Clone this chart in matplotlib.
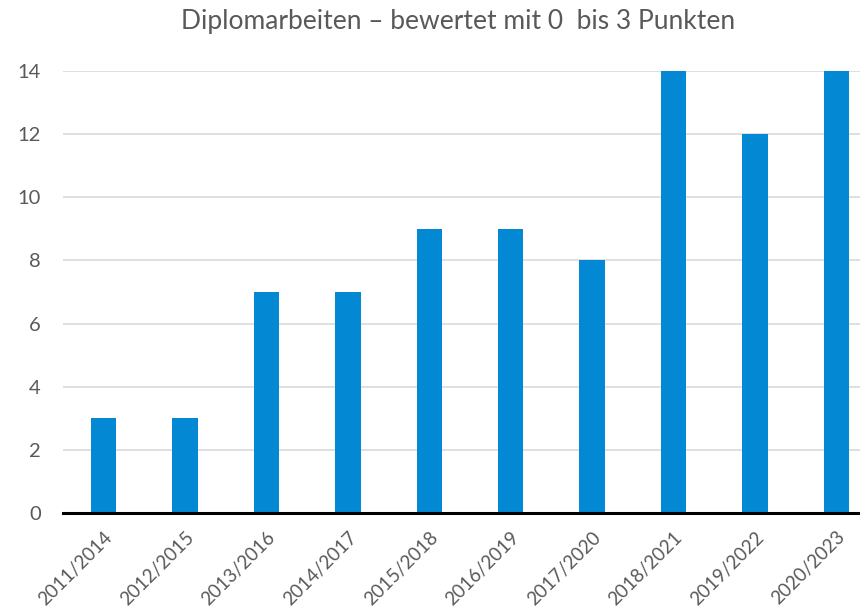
import matplotlib
matplotlib.use("Agg")
import matplotlib.pyplot as plt

categories = ["2011/2014", "2012/2015", "2013/2016", "2014/2017", "2015/2018",
              "2016/2019", "2017/2020", "2018/2021", "2019/2022", "2020/2023"]
values = [3, 3, 7, 7, 9, 9, 8, 14, 12, 14]
yticks = [0, 2, 4, 6, 8, 10, 12, 14]
title = "Diplomarbeiten – bewertet mit 0  bis 3 Punkten"

plt.rcParams['font.family'] = ['Lato', 'DejaVu Sans']

W, H = 860, 607
fig = plt.figure(figsize=(W / 100, H / 100), dpi=100)
left, right = 63, 860
bottom, top = 513, 71
ax = fig.add_axes([left / W, 1 - bottom / H, (right - left) / W, (bottom - top) / H])

x = list(range(len(categories)))
ax.bar(x, values, width=0.31, color="#0389D3", zorder=3)
spacing = 81.4
ax.set_xlim(-0.5, -0.5 + (right - left) / spacing)
ax.set_ylim(0, 14)
ax.set_yticks(yticks)
ax.set_yticklabels([str(v) for v in yticks])
ax.set_xticks(x)
ax.set_xticklabels(categories, rotation=45, ha="right", rotation_mode="anchor")

ax.grid(axis="y", color="#D9D9D9", linewidth=1.2, zorder=0)
for s in ["top", "right", "left"]:
    ax.spines[s].set_visible(False)
ax.spines["bottom"].set_color("black")
ax.spines["bottom"].set_linewidth(2.2)
ax.spines["bottom"].set_zorder(4)
ax.tick_params(axis="both", length=0, labelcolor="#595959")
ax.tick_params(axis="y", labelsize=14.5, pad=16)
ax.tick_params(axis="x", labelsize=13.5, pad=11)

fig.text(458 / W, 1 - 21 / H, title, ha="center", va="center",
         fontsize=19, color="#595959")

fig.savefig("out.png", dpi=100)
